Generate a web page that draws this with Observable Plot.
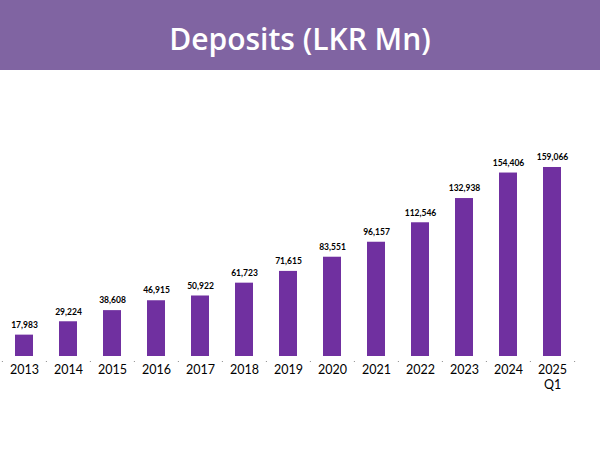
<!DOCTYPE html>
<html>
<head>
<meta charset="utf-8">
<script src="https://cdn.jsdelivr.net/npm/d3@7"></script>
<script src="https://cdn.jsdelivr.net/npm/@observablehq/plot@0.6"></script>
<style>
  html, body { margin: 0; padding: 0; background: #fff; }
  #header { width: 600px; height: 70px; background: #8064A2; color: #fff;
    font-family: "Open Sans", sans-serif; font-weight: 600; font-size: 30px;
    text-align: center; line-height: 78px; box-sizing: border-box; overflow: hidden; }
  #chart svg { display: block; }
</style>
</head>
<body>
<div id="header">Deposits (LKR Mn)</div>
<div id="chart"></div>
<script>
const categories = ["2013", "2014", "2015", "2016", "2017", "2018", "2019", "2020", "2021", "2022", "2023", "2024", "2025 Q1"];
const tickLabels = ["2013", "2014", "2015", "2016", "2017", "2018", "2019", "2020", "2021", "2022", "2023", "2024", "2025"];
const subLabels = ["", "", "", "", "", "", "", "", "", "", "", "", "Q1"];
const deposits = [17983, 29224, 38608, 46915, 50922, 61723, 71615, 83551, 96157, 112546, 132938, 154406, 159066];
const valueLabels = ["17,983", "29,224", "38,608", "46,915", "50,922", "61,723", "71,615", "83,551", "96,157", "112,546", "132,938", "154,406", "159,066"];

const data = categories.map((c, i) => ({cat: c, value: deposits[i], label: valueLabels[i], tick: tickLabels[i], sub: subLabels[i]}));

const W = 600, H = 392;
const marginTop = 84, marginBottom = 106, marginLeft = 1, marginRight = 24;
const step = (W - marginLeft - marginRight) / categories.length;
const frameH = H - marginTop - marginBottom;

const chart = Plot.plot({
  width: W,
  height: H,
  marginTop, marginBottom, marginLeft, marginRight,
  style: {fontFamily: "Lato, sans-serif", background: "transparent"},
  x: {domain: categories, paddingInner: 0.59, paddingOuter: 0.295, axis: null},
  y: {domain: [0, 170000], axis: null},
  marks: [
    Plot.barY(data, {x: "cat", y: "value", fill: "#7030A0"}),
    Plot.ruleX(data, {x: "cat", dx: -step / 2, stroke: "#8c8c8c", strokeWidth: 1, insetTop: frameH + 1, dy: 5}),
    Plot.ruleX(data.slice(-1), {x: "cat", dx: step / 2, stroke: "#8c8c8c", strokeWidth: 1, insetTop: frameH + 1, dy: 5}),
    Plot.text(data, {x: "cat", y: "value", text: "label", dy: -10, fontSize: 8.5, fontWeight: "bold", fill: "#000", fontFamily: "Lato, sans-serif"}),
    Plot.text(data, {x: "cat", y: 0, text: "tick", dy: 13, fontSize: 12.5, fill: "#000", fontFamily: "Lato, sans-serif"}),
    Plot.text(data.filter(d => d.sub !== ""), {x: "cat", y: 0, text: "sub", dy: 28, fontSize: 12.5, fill: "#000", fontFamily: "Lato, sans-serif"})
  ]
});
document.getElementById("chart").appendChild(chart);
</script>
</body>
</html>
